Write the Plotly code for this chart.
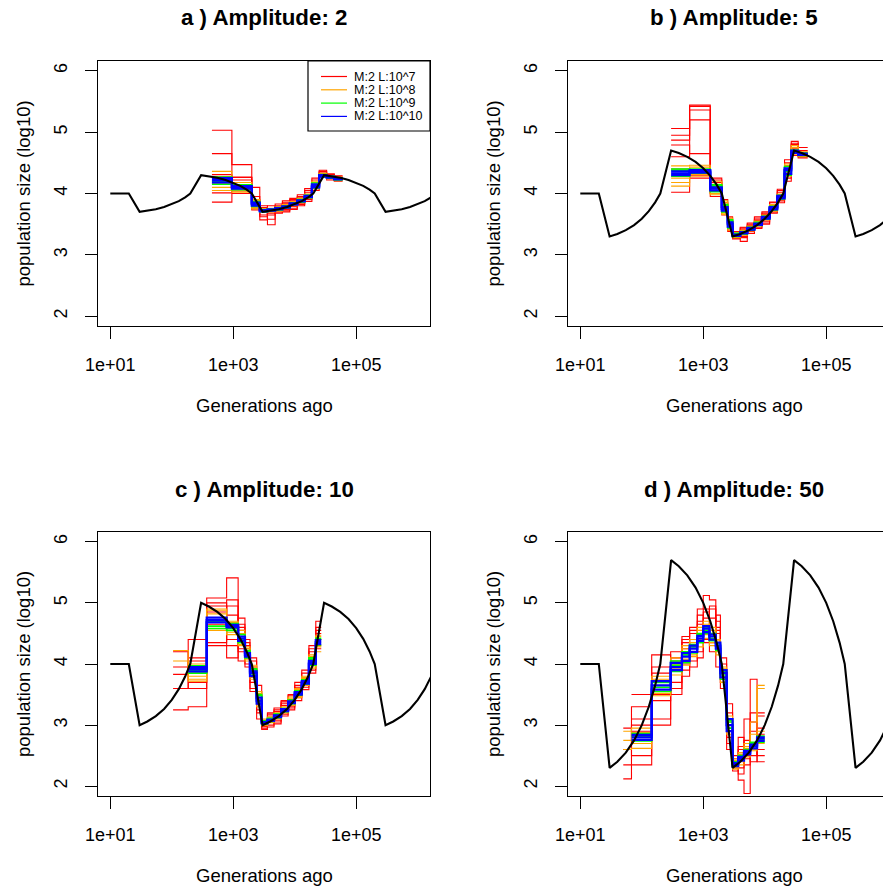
import plotly.graph_objects as go

FONT = "Liberation Sans, Arial, sans-serif"

# ---------------- true population model ----------------
true_t = [10, 20, 30, 40, 55, 75, 100, 130, 165, 200, 300, 400, 550, 750, 1000, 1300, 1650, 2000,
          3000, 4000, 5500, 7500, 10000, 13000, 16500, 20000, 30000, 40000, 55000, 75000, 100000,
          130000, 165000, 200000, 300000, 400000, 550000, 750000, 1000000, 1300000, 1650000]
true_a = [4, 4, 3.7, 3.718, 3.744, 3.779, 3.824, 3.876, 3.938, 4.0,
          4.3, 4.282, 4.256, 4.221, 4.176, 4.124, 4.062, 4.0,
          3.7, 3.718, 3.744, 3.779, 3.824, 3.876, 3.938, 4.0,
          4.3, 4.282, 4.256, 4.221, 4.176, 4.124, 4.062, 4.0,
          3.7, 3.718, 3.744, 3.779, 3.824, 3.876, 3.938]
true_b = [4, 4, 3.3, 3.341, 3.403, 3.485, 3.588, 3.712, 3.856, 4.0,
          4.7, 4.659, 4.597, 4.515, 4.412, 4.288, 4.144, 4.0,
          3.3, 3.341, 3.403, 3.485, 3.588, 3.712, 3.856, 4.0,
          4.7, 4.659, 4.597, 4.515, 4.412, 4.288, 4.144, 4.0,
          3.3, 3.341, 3.403, 3.485, 3.588, 3.712, 3.856]
true_c = [4, 4, 3.0, 3.059, 3.147, 3.265, 3.412, 3.588, 3.794, 4.0,
          5.0, 4.941, 4.853, 4.735, 4.588, 4.412, 4.206, 4.0,
          3.0, 3.059, 3.147, 3.265, 3.412, 3.588, 3.794, 4.0,
          5.0, 4.941, 4.853, 4.735, 4.588, 4.412, 4.206, 4.0,
          3.0, 3.059, 3.147, 3.265, 3.412, 3.588, 3.794]
true_d = [4, 4, 2.3, 2.4, 2.55, 2.75, 3.0, 3.3, 3.65, 4.0,
          5.7, 5.6, 5.45, 5.25, 5.0, 4.7, 4.35, 4.0,
          2.3, 2.4, 2.55, 2.75, 3.0, 3.3, 3.65, 4.0,
          5.7, 5.6, 5.45, 5.25, 5.0, 4.7, 4.35, 4.0,
          2.3, 2.4, 2.55, 2.75, 3.0, 3.3, 3.65]

# ---------------- panel a (amplitude 2) ----------------
a_edges = [450, 950, 2000, 2700, 3600, 4800, 6300, 8300, 11000, 14500, 19000, 25000, 33000, 44000, 60000]
a_blue = [[4.22, 4.10, 3.83, 3.72, 3.73, 3.75, 3.78, 3.83, 3.88, 3.95, 4.12, 4.29, 4.27, 4.24],
          [4.18, 4.08, 3.80, 3.71, 3.72, 3.76, 3.79, 3.82, 3.89, 3.96, 4.15, 4.28, 4.26, 4.23],
          [4.25, 4.12, 3.85, 3.73, 3.74, 3.74, 3.77, 3.84, 3.87, 3.94, 4.10, 4.30, 4.27, 4.25]]
a_green = [[4.20, 4.09, 3.82, 3.71, 3.73, 3.75, 3.79, 3.83, 3.89, 3.96, 4.14, 4.29, 4.26, 4.24],
           [4.15, 4.06, 3.79, 3.70, 3.72, 3.77, 3.80, 3.82, 3.90, 3.97, 4.17, 4.27, 4.25, 4.22],
           [4.27, 4.14, 3.87, 3.74, 3.75, 3.73, 3.76, 3.85, 3.86, 3.93, 4.09, 4.31, 4.28, 4.25]]
a_orange = [[4.36, 4.13, 3.88, 3.74, 3.76, 3.73, 3.80, 3.86, 3.85, 3.98, 4.18, 4.32, 4.28, 4.26],
            [4.10, 4.02, 3.77, 3.69, 3.70, 3.78, 3.76, 3.81, 3.91, 3.92, 4.08, 4.27, 4.24, 4.21],
            [4.24, 4.18, 3.90, 3.75, 3.71, 3.76, 3.82, 3.80, 3.88, 3.99, 4.20, 4.30, 4.29, 4.24],
            [4.05, 4.04, 3.75, 3.72, 3.74, 3.71, 3.78, 3.87, 3.92, 3.95, 4.11, 4.33, 4.26, 4.27]]
a_red = [[5.03, 4.47, 3.90, 3.57, 3.68, 3.76, 3.72, 3.88, 3.84, 4.02, 4.18, 4.38, 4.25, 4.22],
         [4.65, 4.27, 4.10, 3.72, 3.49, 3.80, 3.85, 3.74, 3.95, 3.90, 4.08, 4.33, 4.30, 4.28],
         [4.28, 4.04, 3.75, 3.80, 3.65, 3.70, 3.84, 3.92, 3.80, 4.05, 4.22, 4.26, 4.32, 4.20],
         [4.01, 4.22, 3.73, 3.65, 3.80, 3.68, 3.75, 3.79, 3.98, 3.87, 4.14, 4.36, 4.22, 4.26],
         [3.86, 4.00, 3.95, 3.70, 3.75, 3.83, 3.70, 3.86, 3.89, 4.08, 4.05, 4.28, 4.27, 4.23],
         [4.17, 4.12, 3.80, 3.62, 3.71, 3.73, 3.88, 3.76, 3.93, 3.97, 4.25, 4.35, 4.24, 4.29],
         [4.31, 4.26, 3.86, 3.77, 3.58, 3.78, 3.74, 3.90, 3.82, 3.94, 4.11, 4.27, 4.31, 4.25]]

# ---------------- panel b (amplitude 5) ----------------
b_edges = [300, 600, 1300, 2000, 2500, 3000, 4000, 5200, 6800, 9000, 12000, 16000, 21000, 27000, 35000, 50000]
b_blue = [[4.33, 4.36, 4.08, 3.75, 3.50, 3.32, 3.36, 3.42, 3.50, 3.61, 3.76, 3.94, 4.38, 4.68, 4.64],
          [4.30, 4.38, 4.05, 3.72, 3.46, 3.33, 3.35, 3.44, 3.51, 3.59, 3.78, 3.96, 4.32, 4.66, 4.63],
          [4.36, 4.34, 4.10, 3.78, 3.53, 3.31, 3.37, 3.41, 3.49, 3.62, 3.74, 3.92, 4.41, 4.70, 4.65]]
b_green = [[4.38, 4.40, 4.12, 3.80, 3.55, 3.34, 3.38, 3.43, 3.52, 3.60, 3.77, 3.95, 4.36, 4.69, 4.66],
           [4.28, 4.33, 4.03, 3.70, 3.44, 3.30, 3.34, 3.45, 3.48, 3.63, 3.73, 3.97, 4.30, 4.71, 4.62],
           [4.40, 4.37, 4.14, 3.82, 3.57, 3.35, 3.35, 3.40, 3.53, 3.58, 3.79, 3.91, 4.44, 4.67, 4.64]]
b_orange = [[4.45, 4.46, 4.20, 3.85, 3.60, 3.36, 3.39, 3.46, 3.54, 3.64, 3.80, 3.98, 4.45, 4.75, 4.68],
            [4.18, 4.28, 3.98, 3.66, 3.40, 3.28, 3.33, 3.39, 3.47, 3.57, 3.71, 3.90, 4.28, 4.64, 4.60],
            [4.25, 4.43, 4.15, 3.88, 3.48, 3.31, 3.40, 3.44, 3.55, 3.65, 3.82, 3.99, 4.48, 4.72, 4.66],
            [4.12, 4.31, 4.00, 3.68, 3.52, 3.34, 3.32, 3.47, 3.50, 3.61, 3.72, 3.93, 4.33, 4.78, 4.63]]
b_red = [[5.06, 5.44, 4.25, 3.90, 3.55, 3.26, 3.45, 3.38, 3.58, 3.55, 3.85, 3.90, 4.50, 4.85, 4.62],
         [4.95, 5.36, 4.10, 3.65, 3.40, 3.35, 3.28, 3.50, 3.45, 3.70, 3.70, 4.05, 4.25, 4.80, 4.70],
         [4.87, 5.20, 4.18, 3.82, 3.62, 3.30, 3.22, 3.48, 3.56, 3.52, 3.82, 3.88, 4.45, 4.62, 4.75],
         [4.79, 4.65, 3.95, 3.72, 3.48, 3.38, 3.42, 3.35, 3.60, 3.68, 3.68, 4.02, 4.40, 4.73, 4.60],
         [4.02, 4.30, 4.22, 3.85, 3.60, 3.27, 3.33, 3.52, 3.43, 3.66, 3.86, 3.96, 4.20, 4.66, 4.67],
         [4.60, 5.42, 4.05, 3.70, 3.38, 3.32, 3.44, 3.41, 3.53, 3.58, 3.75, 4.07, 4.55, 4.70, 4.58],
         [4.40, 4.25, 4.00, 3.78, 3.50, 3.29, 3.30, 3.46, 3.62, 3.50, 3.80, 3.85, 4.35, 4.82, 4.65]]

# ---------------- panel c (amplitude 10) ----------------
c_edges = [105, 185, 370, 780, 1200, 1550, 1870, 2400, 2900, 3600, 4600, 6000, 7800, 10000, 13000, 17000, 22000, 27000]
c_blue = [[None, 3.92, 4.72, 4.62, 4.42, 4.15, 3.85, 3.40, 3.04, 3.08, 3.15, 3.24, 3.37, 3.52, 3.70, 4.02, 4.36],
          [None, 3.88, 4.68, 4.60, 4.38, 4.12, 3.80, 3.35, 3.03, 3.07, 3.13, 3.26, 3.39, 3.50, 3.72, 4.05, 4.33],
          [None, 3.95, 4.76, 4.64, 4.45, 4.18, 3.88, 3.45, 3.05, 3.09, 3.16, 3.23, 3.36, 3.54, 3.68, 4.00, 4.39]]
c_green = [[None, 3.85, 4.62, 4.58, 4.40, 4.20, 3.90, 3.48, 3.06, 3.10, 3.17, 3.27, 3.40, 3.55, 3.74, 4.08, 4.40],
           [None, 3.97, 4.70, 4.66, 4.48, 4.10, 3.82, 3.38, 3.02, 3.06, 3.12, 3.22, 3.35, 3.49, 3.67, 3.98, 4.31],
           [None, 3.90, 4.58, 4.55, 4.35, 4.22, 3.92, 3.50, 3.07, 3.11, 3.18, 3.25, 3.41, 3.56, 3.71, 4.10, 4.42]]
c_orange = [[4.22, 3.75, 4.88, 4.68, 4.50, 4.25, 3.95, 3.55, 3.08, 3.12, 3.20, 3.30, 3.44, 3.58, 3.76, 4.12, 4.45],
            [4.05, 3.72, 4.55, 4.52, 4.32, 4.05, 3.75, 3.30, 3.01, 3.05, 3.10, 3.20, 3.33, 3.47, 3.65, 3.95, 4.28],
            [None, 4.00, 4.82, 4.70, 4.55, 4.28, 3.98, 3.42, 3.10, 3.04, 3.19, 3.28, 3.46, 3.60, 3.78, 4.15, 4.20],
            [None, 3.80, 4.90, 4.48, 4.30, 4.08, 3.78, 3.52, 2.99, 3.13, 3.11, 3.21, 3.32, 3.45, 3.80, 3.93, 4.47]]
c_red = [[3.25, 3.30, 5.08, 5.41, 4.20, 4.00, 3.60, 3.10, 2.95, 3.15, 3.05, 3.35, 3.30, 3.65, 3.62, 4.20, 4.50],
         [3.83, 4.40, 5.00, 4.30, 4.60, 4.25, 3.70, 3.55, 3.00, 2.97, 3.25, 3.18, 3.48, 3.40, 3.85, 3.90, 4.70],
         [4.20, 3.85, 4.35, 5.05, 4.05, 4.35, 4.05, 3.25, 3.08, 3.20, 3.02, 3.38, 3.28, 3.62, 3.78, 4.25, 4.30],
         [None, 4.10, 4.30, 4.10, 4.75, 3.95, 3.95, 3.65, 2.93, 3.05, 3.22, 3.15, 3.50, 3.45, 3.58, 3.98, 4.60],
         [3.60, 4.05, 4.85, 4.95, 4.55, 4.40, 3.55, 3.35, 3.02, 3.18, 3.08, 3.32, 3.25, 3.70, 3.90, 4.12, 4.40],
         [None, 3.70, 4.65, 4.40, 4.25, 4.10, 3.88, 3.20, 2.98, 3.00, 3.28, 3.22, 3.42, 3.55, 3.66, 3.85, 4.55],
         [3.95, 3.60, 4.95, 4.80, 4.65, 4.30, 4.10, 3.45, 3.04, 3.10, 3.14, 3.40, 3.36, 3.48, 3.72, 4.30, 4.25]]

# ---------------- panel d (amplitude 50) ----------------
d_edges = [50, 68, 145, 295, 450, 600, 800, 1000, 1260, 1600, 1900, 2400, 3000, 3700, 4600, 5800, 7500, 10000]
d_blue = [[None, 2.80, 3.65, 3.95, 4.12, 4.25, 4.42, 4.58, 4.45, 4.30, 3.85, 3.00, 2.36, 2.45, 2.55, 2.65, 2.78],
          [None, 2.76, 3.58, 3.90, 4.05, 4.20, 4.38, 4.52, 4.48, 4.25, 3.78, 2.90, 2.33, 2.42, 2.52, 2.68, 2.74],
          [None, 2.84, 3.72, 4.02, 4.18, 4.30, 4.46, 4.62, 4.40, 4.35, 3.90, 3.10, 2.38, 2.48, 2.58, 2.62, 2.80]]
d_green = [[None, 2.82, 3.62, 3.98, 4.15, 4.32, 4.48, 4.55, 4.50, 4.28, 3.82, 3.05, 2.40, 2.47, 2.60, 2.70, 2.76],
           [None, 2.74, 3.55, 3.88, 4.02, 4.18, 4.35, 4.50, 4.42, 4.22, 3.75, 2.95, 2.34, 2.44, 2.53, 2.66, 2.72],
           [None, 2.86, 3.70, 4.05, 4.20, 4.28, 4.50, 4.60, 4.38, 4.33, 3.88, 3.08, 2.37, 2.50, 2.56, 2.72, 2.82]]
d_orange = [[2.90, 2.95, 3.75, 4.10, 4.25, 4.40, 4.55, 4.70, 4.55, 4.40, 3.95, 3.15, 2.42, 2.55, 2.65, 3.05, 3.60],
            [2.60, 2.62, 3.48, 3.82, 3.98, 4.12, 4.28, 4.42, 4.35, 4.15, 3.70, 2.85, 2.30, 2.40, 2.48, 2.60, 3.65],
            [None, 2.70, 3.80, 4.00, 4.30, 4.15, 4.60, 4.48, 4.60, 4.20, 3.92, 3.05, 2.45, 2.35, 2.70, 2.85, 2.90],
            [2.75, 2.88, 3.52, 3.92, 4.08, 4.35, 4.40, 4.65, 4.30, 4.38, 3.80, 2.95, 2.28, 2.52, 2.62, 2.58, 2.70]]
d_red = [[2.35, 3.30, 4.15, 3.60, 4.40, 4.60, 4.90, 5.12, 5.05, 4.50, 3.90, 2.70, 2.40, 2.10, 1.88, 3.75, 3.20],
         [2.12, 2.35, 3.00, 4.00, 3.90, 4.50, 4.70, 4.85, 4.95, 4.60, 3.60, 3.20, 2.25, 2.60, 2.45, 2.90, 2.40],
         [2.60, 3.00, 3.50, 4.20, 4.25, 4.05, 4.80, 4.35, 4.20, 3.95, 4.10, 2.60, 2.50, 2.30, 3.10, 2.50, 3.15],
         [None, 3.50, 3.40, 3.70, 3.80, 4.30, 4.10, 4.75, 4.90, 4.70, 3.75, 3.00, 2.35, 2.80, 2.65, 3.20, 2.60],
         [2.95, 2.50, 3.10, 4.10, 4.45, 4.55, 4.65, 4.90, 4.50, 4.80, 4.00, 2.80, 2.45, 2.20, 2.75, 2.40, 2.95],
         [None, 3.10, 3.85, 3.50, 4.00, 4.40, 4.50, 4.40, 4.75, 4.25, 3.85, 3.35, 2.30, 2.55, 2.50, 3.05, 2.85],
         [None, 2.90, 3.95, 4.05, 4.35, 3.95, 4.20, 4.60, 4.35, 4.55, 3.70, 2.90, 2.40, 2.65, 2.35, 2.70, 2.50]]

titles = ["a ) Amplitude: 2", "b ) Amplitude: 5", "c ) Amplitude: 10", "d ) Amplitude: 50"]
legend_labels = ["M:2 L:10^7", "M:2 L:10^8", "M:2 L:10^9", "M:2 L:10^10"]
x_tickvals = [10, 1000, 100000]
x_ticktext = ["1e+01", "1e+03", "1e+05"]
y_tickvals = [2, 3, 4, 5, 6]

COL = {"red": "#FF0000", "orange": "#FFA500", "green": "#00FF00", "blue": "#0000FF"}
WID = {"red": 1.1, "orange": 1.1, "green": 1.6, "blue": 2.2}

# the page body has an 8px margin: the figure starts at page pixel (8, 8)
OFF = 8
PAGE_W, PAGE_H = 891, 888
W, H = PAGE_W - OFF, PAGE_H - OFF


def px(X):
    return (X - OFF) / W


def py(Y):
    return 1 - (Y - OFF) / H


# page-pixel boxes of the four plot regions (left, right, top, bottom)
boxes = [(98, 430, 61, 326), (568, 900, 61, 326), (98, 430, 532, 796), (568, 900, 532, 796)]

panels = [
    (true_a, a_edges, a_red, a_orange, a_green, a_blue),
    (true_b, b_edges, b_red, b_orange, b_green, b_blue),
    (true_c, c_edges, c_red, c_orange, c_green, c_blue),
    (true_d, d_edges, d_red, d_orange, d_green, d_blue),
]

fig = go.Figure()
layout = dict(width=W, height=H, margin=dict(l=0, r=0, t=0, b=0, autoexpand=False),
              paper_bgcolor="white", plot_bgcolor="white", showlegend=False,
              font=dict(family=FONT, color="black"))
annotations = []
shapes = []

PX_PER_DEC = (430 - 98) / 5.4

for i, (truth, edges, reds, oranges, greens, blues) in enumerate(panels):
    n = "" if i == 0 else str(i + 1)
    xa, ya = "x" + n, "y" + n
    l, r, t, b = boxes[i]
    r_vis = min(r, PAGE_W)
    x_hi = 0.8 + (r_vis - l) / PX_PER_DEC
    for color, group in (("red", reds), ("orange", oranges), ("green", greens), ("blue", blues)):
        for vals in group:
            fig.add_trace(go.Scatter(x=edges, y=list(vals) + [vals[-1]], mode="lines",
                                     line=dict(color=COL[color], width=WID[color], shape="hv"),
                                     xaxis=xa, yaxis=ya, hoverinfo="skip"))
    fig.add_trace(go.Scatter(x=true_t, y=truth, mode="lines",
                             line=dict(color="black", width=2.1),
                             xaxis=xa, yaxis=ya, hoverinfo="skip"))
    layout["xaxis" + n] = dict(
        domain=[px(l), px(r_vis)], anchor=ya, type="log", range=[0.8, x_hi],
        tickvals=x_tickvals, ticktext=x_ticktext, ticks="outside", ticklen=12,
        tickwidth=1, tickcolor="black", showline=True, linecolor="black", linewidth=1.2,
        mirror=True, showgrid=False, zeroline=False, ticklabelstandoff=10, automargin=False,
        tickfont=dict(family=FONT, size=18, color="black"))
    layout["yaxis" + n] = dict(
        domain=[py(b), py(t)], anchor=xa, range=[1.84, 6.16],
        tickvals=y_tickvals, ticks="outside", ticklen=12, tickangle=-90,
        tickwidth=1, tickcolor="black", showline=True, linecolor="black", linewidth=1.2,
        mirror=(r <= PAGE_W), showgrid=False, zeroline=False, ticklabelstandoff=11, automargin=False,
        tickfont=dict(family=FONT, size=18, color="black"))
    cx = (l + r) / 2
    annotations.append(dict(text="<b>" + titles[i] + "</b>", x=px(cx), y=py(t - 43),
                            xref="paper", yref="paper", showarrow=False,
                            xanchor="center", yanchor="middle",
                            font=dict(family=FONT, size=22.3, color="black")))
    annotations.append(dict(text="Generations ago", x=px(cx), y=py(b + 79),
                            xref="paper", yref="paper", showarrow=False,
                            xanchor="center", yanchor="middle",
                            font=dict(family=FONT, size=18.5, color="black")))
    annotations.append(dict(text="population size (log10)", x=px(l - 75), y=py((t + b) / 2),
                            xref="paper", yref="paper", showarrow=False, textangle=-90,
                            xanchor="center", yanchor="middle",
                            font=dict(family=FONT, size=18.5, color="black")))

# legend box in panel a
shapes.append(dict(type="rect", xref="paper", yref="paper",
                   x0=px(308), x1=px(430), y0=py(131), y1=py(61),
                   line=dict(color="black", width=1.2), fillcolor="white", layer="above"))
for k, (lab, c) in enumerate(zip(legend_labels, ["red", "orange", "green", "blue"])):
    yy = py(76.5 + k * 13.3)
    shapes.append(dict(type="line", xref="paper", yref="paper",
                       x0=px(321), x1=px(347), y0=yy, y1=yy,
                       line=dict(color=COL[c], width=1.2), layer="above"))
    annotations.append(dict(text=lab, x=px(352), y=yy, xref="paper", yref="paper",
                            showarrow=False, xanchor="left", yanchor="middle",
                            font=dict(family=FONT, size=12.5, color="black")))

layout["annotations"] = annotations
layout["shapes"] = shapes
fig.update_layout(**layout)
fig.write_html("out.html")
